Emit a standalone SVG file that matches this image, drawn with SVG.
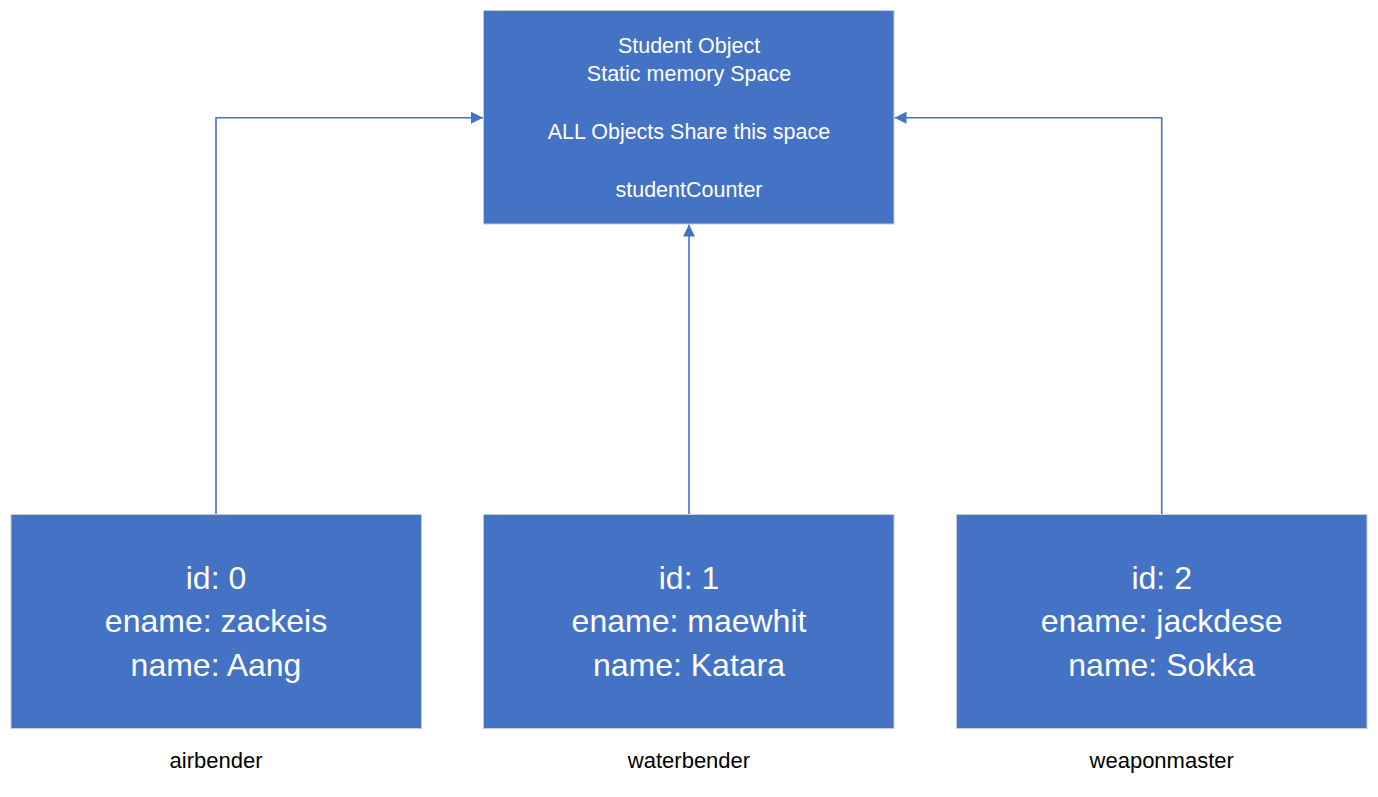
<svg xmlns="http://www.w3.org/2000/svg" width="1378" height="797" viewBox="0 0 1378 797">
  <style>
    .box { fill: #4472c4; stroke: #c5cbd8; stroke-width: 1; }
    .t { font-family: "Liberation Sans", Arial, sans-serif; fill: #ffffff; text-anchor: middle; }
    .ts { font-size: 21.5px; }
    .tb { font-size: 32px; }
    .lbl { font-family: "Liberation Sans", Arial, sans-serif; font-size: 22px; fill: #000000; text-anchor: middle; }
    .conn { fill: none; stroke: #4472c4; stroke-width: 1.6; }
  </style>
  <defs>
    <marker id="arrow" viewBox="0 0 12 12" refX="12" refY="6" markerWidth="12" markerHeight="12" markerUnits="userSpaceOnUse" orient="auto">
      <path d="M0,0 L12,6 L0,12 Z" fill="#4472c4"/>
    </marker>
  </defs>
  <rect width="1378" height="797" fill="#ffffff"/>

  <g id="connectors">
    <path class="conn" d="M216,514 L216,117.7 L483,117.7" marker-end="url(#arrow)"/>
    <path class="conn" d="M689,514 L689,224.5" marker-end="url(#arrow)"/>
    <path class="conn" d="M1161.7,514 L1161.7,117.7 L894.5,117.7" marker-end="url(#arrow)"/>
  </g>

  <g id="static-space">
    <rect class="box" x="483.5" y="10.5" width="410.5" height="213.5"/>
    <text class="t ts" x="689" y="53">Student Object</text>
    <text class="t ts" x="689" y="81">Static memory Space</text>
    <text class="t ts" x="689" y="138.5">ALL Objects Share this space</text>
    <text class="t ts" x="689" y="196.5">studentCounter</text>
  </g>

  <g id="airbender">
    <rect class="box" x="11" y="514.5" width="410.5" height="214"/>
    <text class="t tb" x="216" y="589">id: 0</text>
    <text class="t tb" x="216" y="632">ename: zackeis</text>
    <text class="t tb" x="216" y="676">name: Aang</text>
    <text class="lbl" x="216" y="768">airbender</text>
  </g>

  <g id="waterbender">
    <rect class="box" x="483.5" y="514.5" width="410.5" height="214"/>
    <text class="t tb" x="689" y="589">id: 1</text>
    <text class="t tb" x="689" y="632">ename: maewhit</text>
    <text class="t tb" x="689" y="676">name: Katara</text>
    <text class="lbl" x="689" y="768">waterbender</text>
  </g>

  <g id="weaponmaster">
    <rect class="box" x="956.5" y="514.5" width="410.5" height="214"/>
    <text class="t tb" x="1161.7" y="589">id: 2</text>
    <text class="t tb" x="1161.7" y="632">ename: jackdese</text>
    <text class="t tb" x="1161.7" y="676">name: Sokka</text>
    <text class="lbl" x="1161.7" y="768">weaponmaster</text>
  </g>
</svg>
